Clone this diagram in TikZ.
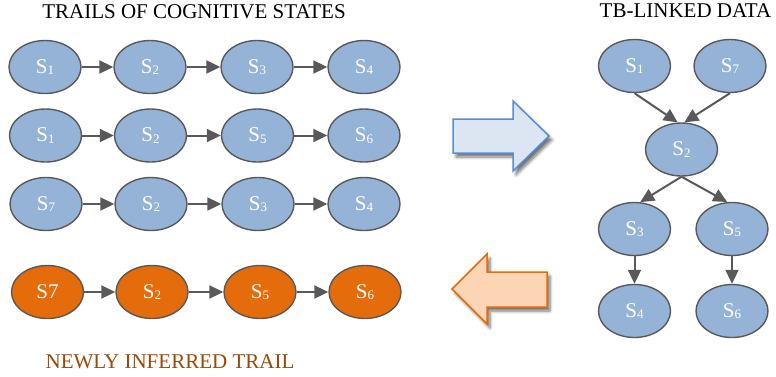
\documentclass[tikz,border=0pt]{standalone}
\usepackage{fontspec}
\setmainfont{Liberation Serif}[Extension=.ttf, UprightFont=LiberationSerif-Regular, BoldFont=LiberationSerif-Bold]
\usetikzlibrary{shapes.geometric,arrows.meta,shadows.blur}
\definecolor{nodeblue}{HTML}{95B3D7}
\definecolor{nodeorange}{HTML}{E46C0A}
\definecolor{edgegray}{HTML}{595959}
\definecolor{rarrowfill}{HTML}{DCE6F2}
\definecolor{rarrowline}{HTML}{558ED5}
\definecolor{larrowfill}{HTML}{FCD5B5}
\definecolor{larrowline}{HTML}{E46C0A}
\definecolor{newtext}{HTML}{984807}
\newcommand{\stsub}[1]{\raisebox{-1.5pt}{\fontsize{13}{13}\selectfont #1}}
\tikzset{
  state/.style={ellipse, draw=edgegray, line width=1.4pt, fill=nodeblue,
    minimum width=72pt, minimum height=53pt, inner sep=0pt,
    text=white, font=\rmfamily\fontsize{21}{22}\selectfont},
  ostate/.style={state, fill=nodeorange},
  conn/.style={draw=edgegray, line width=2pt, -{Triangle[length=14pt,width=13pt]}},
  title/.style={font=\rmfamily\fontsize{21}{22}\selectfont, anchor=base, inner sep=0pt},
  bigarrow/.style={line width=1.5pt, line join=miter,
    blur shadow={shadow xshift=3pt, shadow yshift=-4pt, shadow opacity=55, shadow blur steps=6, shadow blur radius=3pt}}
}
\begin{document}
\begin{tikzpicture}[x=1pt,y=-1pt]
\useasboundingbox (0,0) rectangle (776,376);
% titles
\node[title] (t1) at (194,18) {TRAILS OF COGNITIVE STATES};
\node[title] (t2) at (685.5,17) {TB-LINKED DATA};
\node[title, text=newtext] (t3) at (170,368) {NEWLY INFERRED TRAIL};
% row 1
\node[state] (a1) at (45,67) {S\stsub{1}};
\node[state] (a2) at (150,67) {S\stsub{2}};
\node[state] (a3) at (257,67) {S\stsub{3}};
\node[state] (a4) at (364,67) {S\stsub{4}};
% row 2
\node[state] (b1) at (45.5,135.5) {S\stsub{1}};
\node[state] (b2) at (150.5,135.5) {S\stsub{2}};
\node[state] (b3) at (257.5,135.5) {S\stsub{5}};
\node[state] (b4) at (364,135.5) {S\stsub{6}};
% row 3
\node[state] (c1) at (46,204) {S\stsub{7}};
\node[state] (c2) at (151,204) {S\stsub{2}};
\node[state] (c3) at (258,204) {S\stsub{3}};
\node[state] (c4) at (364,204) {S\stsub{4}};
% row 4 (orange)
\node[ostate] (d1) at (47.5,292) {S7};
\node[ostate] (d2) at (152,292) {S\stsub{2}};
\node[ostate] (d3) at (260,292) {S\stsub{5}};
\node[ostate] (d4) at (365,292) {S\stsub{6}};
\foreach \r in {a,b,c,d}{
  \draw[conn] (\r1) -- (\r2);
  \draw[conn] (\r2) -- (\r3);
  \draw[conn] (\r3) -- (\r4);
}
% right graph
\node[state] (g1) at (634.5,66) {S\stsub{1}};
\node[state] (g7) at (730,66) {S\stsub{7}};
\node[state] (g2) at (681.5,149.5) {S\stsub{2}};
\node[state] (g3) at (634.5,229) {S\stsub{3}};
\node[state] (g5) at (732,229) {S\stsub{5}};
\node[state] (g4) at (634.5,311) {S\stsub{4}};
\node[state] (g6) at (732,311) {S\stsub{6}};
\draw[conn] (g1.south) -- (g2.98);
\draw[conn] (g7.south) -- (g2.84);
\draw[conn] (g2.south) -- (g3.78);
\draw[conn] (g2.south) -- (g5.100);
\draw[conn] (g3) -- (g4);
\draw[conn] (g5) -- (g6);
% big arrows
\draw[bigarrow, fill=rarrowfill, draw=rarrowline]
  (453,119) -- (513,119) -- (513,101) -- (549,136) -- (513,171) -- (513,153) -- (453,153) -- cycle;
\draw[bigarrow, fill=larrowfill, draw=larrowline]
  (547,272) -- (487,272) -- (487,254) -- (452,289) -- (487,324) -- (487,307) -- (547,307) -- cycle;
\end{tikzpicture}
\end{document}
